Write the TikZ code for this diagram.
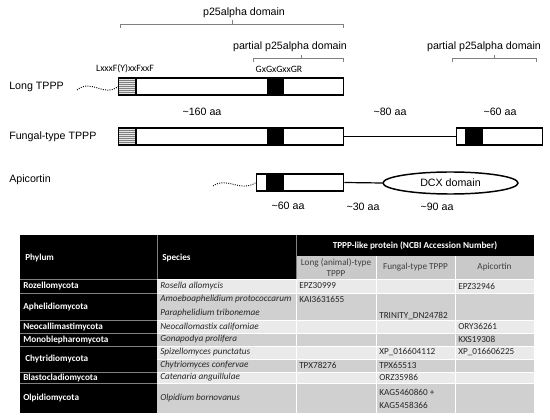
\documentclass[tikz,border=0pt]{standalone}
\usepackage{fontspec}
\setmainfont{Liberation Sans}
\newfontfamily\tabfont{Carlito}
\usetikzlibrary{shapes.geometric}
\definecolor{rowlight}{HTML}{EAEAEA}
\definecolor{rowdark}{HTML}{D0D0D0}
\definecolor{headgray}{HTML}{C9C9C9}
\definecolor{celltext}{HTML}{262626}

\begin{document}
\begin{tikzpicture}[x=0.75pt,y=0.75pt,yscale=-1,xscale=1,
  tlabel/.style={font=\fontsize{8}{9.6}\selectfont, inner sep=0.75pt},
  motif/.style={font=\tabfont\fontsize{7.3}{8.8}\selectfont, inner sep=0.75pt},
  seg/.style={draw, line width=1.1pt, inner sep=0pt, minimum height=12.75pt, anchor=west},
  dcx/.style={draw, ellipse, line width=1.1pt, inner sep=0pt, minimum width=101.25pt, minimum height=16.5pt, font=\fontsize{8}{9.6}\selectfont},
  tailline/.style={densely dotted, line width=0.7pt},
  linker/.style={line width=0.9pt},
  brkt/.style={draw=gray, line width=0.6pt},
  cell/.style={font=\tabfont\fontsize{6.9}{8.3}\selectfont, inner sep=0.75pt, anchor=west, text=celltext},
  spc/.style={cell, font=\tabfont\itshape\fontsize{6.9}{8.3}\selectfont},
  phy/.style={cell, font=\tabfont\bfseries\fontsize{6.9}{8.3}\selectfont, text=white},
  colhead/.style={font=\tabfont\fontsize{6.9}{8.3}\selectfont, inner sep=0.75pt, text=black!75, align=center}]

\useasboundingbox (0,0) rectangle (550,420);

% brackets over the domains
\draw [brkt] (120,28) -- (120,24) -- (343,24) -- (343,28) (232,24) -- (232,20) ;
\draw [brkt] (253,62) -- (253,58) -- (343,58) -- (343,62) (301,58) -- (301,55) ;
\draw [brkt] (452,62) -- (452,58) -- (536,58) -- (536,62) (494,58) -- (494,55) ;
\node [tlabel] (p25) at (244,13) {p25alpha domain};
\node [tlabel] (part1) at (290,47) {partial p25alpha domain};
\node [tlabel] (part2) at (484,47) {partial p25alpha domain};
\node [motif] (motifL) at (125,69) {LxxxF(Y)xxFxxF};
\node [motif] (motifG) at (279,69) {GxGxGxxGR};

% hatched and black blocks
\foreach \yo in {78,128} {
  \fill [gray!20] (118,\yo) rectangle (136,\yo+17);
  \foreach \k in {2,4,...,16} \draw [gray, line width=0.4pt] (118,\yo+\k) -- (136,\yo+\k);
  \draw [line width=1.1pt] (136,\yo) -- (136,\yo+17);
  \fill (267,\yo) rectangle (284,\yo+17);
}
\fill (465,128) rectangle (483,145);
\fill (266,174) rectangle (284,191);

% protein rows
\node [tlabel, anchor=west] (longlbl) at (8,87) {Long TPPP};
\node [tlabel, anchor=west] (funglbl) at (8,137) {Fungal-type TPPP};
\node [tlabel, anchor=west] (apilbl) at (8,180) {Apicortin};

\node [seg, minimum width=168.75pt] (longbox) at (118,86.5) {};
\node [seg, minimum width=168.75pt] (fungbox) at (118,136.5) {};
\node [seg, minimum width=64.5pt] (fungbox2) at (456,136.5) {};
\node [seg, minimum width=65.25pt] (apibox) at (256,182.5) {};
\node [dcx] (dcxdom) at (450.5,183) {DCX domain};

\coordinate (longtail) at (77,90);
\coordinate (apitail) at (213,186);
\draw [tailline] (longtail) .. controls (92,78) and (104,98) .. (longbox.west);
\draw [tailline] (apitail) .. controls (227,176) and (240,193) .. (apibox.west);
\draw [linker] (fungbox.east) -- (fungbox2.west);
\draw [linker] (apibox.east) -- (dcxdom.west);

\node [tlabel] (len160) at (202,112) {\textasciitilde160 aa};
\node [tlabel] (len80) at (390,112) {\textasciitilde80 aa};
\node [tlabel] (len60a) at (500,112) {\textasciitilde60 aa};
\node [tlabel] (len60b) at (288,206) {\textasciitilde60 aa};
\node [tlabel] (len30) at (363,207) {\textasciitilde30 aa};
\node [tlabel] (len90) at (437,207) {\textasciitilde90 aa};

% table
\fill [black] (20,235) rectangle (534,256);
\fill [black] (20,256) rectangle (296,279);
\fill [headgray] (296,256) rectangle (534,279);
\fill [black] (20,279) rectangle (157,413);
\foreach \ya/\yb/\shade in {279/293/rowlight, 293/320/rowdark, 320/333/rowlight, 333/346/rowdark,
  346/359/rowlight, 359/372/rowdark, 372/383/rowlight, 383/413/rowdark}
  \fill [\shade] (157,\ya) rectangle (534,\yb);
\foreach \yy in {279,293,320,333,346,359,372,383} \draw [white, line width=0.6pt] (157,\yy) -- (534,\yy);
\foreach \xx in {376,455} \draw [white, line width=0.6pt] (\xx,256) -- (\xx,413);
\draw [white, line width=0.6pt] (296,279) -- (296,413);
\foreach \yy in {279,293,320,333,346,372,383} \draw [gray, line width=0.6pt] (20,\yy) -- (157,\yy);
\draw [gray, line width=0.6pt] (157,235) -- (157,279);
\draw [gray, line width=0.6pt] (296,235) -- (296,279);

\node [phy] (hphylum) at (24,258) {Phylum};
\node [phy] (hspecies) at (161,258) {Species};
\node [phy, anchor=center] (htppp) at (415,246) {TPPP-like protein (NCBI Accession Number)};
\node [colhead] (hlong) at (336,267.5) {Long (animal)-type\\TPPP};
\node [colhead] (hfung) at (415.5,267.5) {Fungal-type TPPP};
\node [colhead] (hapi) at (494.5,267.5) {Apicortin};

\node [phy] (ph1) at (22,286) {Rozellomycota};
\node [phy] (ph2) at (22,306.5) {Aphelidiomycota};
\node [phy] (ph3) at (22,326.5) {Neocallimastimycota};
\node [phy] (ph4) at (22,339.5) {Monoblepharomycota};
\node [phy] (ph5) at (24,359) {Chytridiomycota};
\node [phy] (ph6) at (22,377.5) {Blastocladiomycota};
\node [phy] (ph7) at (22,398) {Olpidiomycota};

\node [spc] (sp1) at (159,286) {Rosella allomycis};
\node [spc] (sp2) at (159,299.5) {Amoeboaphelidium protococcarum};
\node [spc] (sp3) at (159,313) {Paraphelidium tribonemae};
\node [spc] (sp4) at (159,326.5) {Neocallomastix californiae};
\node [spc] (sp5) at (159,339.5) {Gonapodya prolifera};
\node [spc] (sp6) at (159,352.5) {Spizellomyces punctatus};
\node [spc] (sp7) at (159,365.5) {Chytriomyces confervae};
\node [spc] (sp8) at (159,377.5) {Catenaria anguillulae};
\node [spc] (sp9) at (159,398) {Olpidium bornovanus};

\node [cell] (lg1) at (298,286) {EPZ30999};
\node [cell] (lg2) at (298,299.5) {KAI3631655};
\node [cell] (lg3) at (298,365.5) {TPX78276};

\node [cell] (fg1) at (378,315.5) {TRINITY\_DN24782};
\node [cell] (fg2) at (378,352.5) {XP\_016604112};
\node [cell] (fg3) at (378,365.5) {TPX65513};
\node [cell] (fg4) at (378,377.5) {ORZ35986};
\node [cell, align=left, font=\tabfont\fontsize{6.9}{9.7}\selectfont] (fg5) at (378,398.5) {KAG5460860 +\\KAG5458366};

\node [cell] (ap1) at (457,286) {EPZ32946};
\node [cell] (ap2) at (457,326.5) {ORY36261};
\node [cell] (ap3) at (457,339.5) {KXS19308};
\node [cell] (ap4) at (457,352.5) {XP\_016606225};

\end{tikzpicture}
\end{document}
